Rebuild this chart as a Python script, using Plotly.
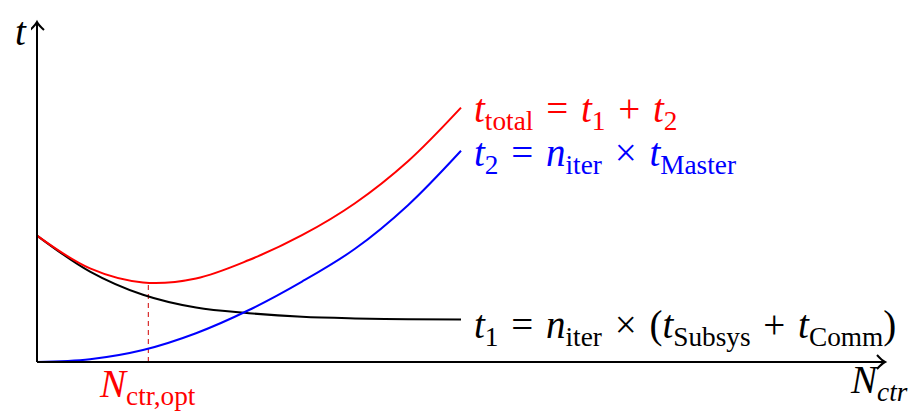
import plotly.graph_objects as go

# values (x: N_ctr, y: time, arbitrary units)
n_ctr = [0.0, 0.5, 1.0, 1.5, 2.0, 2.5, 3.0, 3.5, 4.0]
t1_vals = [3.16, 2.26, 1.68, 1.36, 1.22, 1.13, 1.09, 1.07, 1.06]
t2_vals = [0.0, 0.07, 0.30, 0.72, 1.30, 2.01, 2.83, 3.92, 5.28]
ttotal_vals = [3.16, 2.34, 1.99, 2.09, 2.55, 3.17, 3.97, 5.02, 6.36]

# optimum
n_opt = 1.05
t_opt = 1.99

x_max = 8.0
y_max = 8.5

FONT = "Liberation Serif"
FS = 39
# wider space around operators, like math spacing
SP = '<span style="font-size:51px">&nbsp;</span>'

# pixels per data unit (x: 106 px, y: 40 px)
PX = 1 / 106
PY = 1 / 40

fig = go.Figure()

fig.add_trace(go.Scatter(x=n_ctr, y=t1_vals, mode='lines', line=dict(color='black', width=2, shape='spline')))
fig.add_trace(go.Scatter(x=n_ctr, y=t2_vals, mode='lines', line=dict(color='blue', width=2, shape='spline')))
fig.add_trace(go.Scatter(x=n_ctr, y=ttotal_vals, mode='lines', line=dict(color='red', width=2, shape='spline')))

fig.add_shape(type='line', x0=n_opt, x1=n_opt, y0=0, y1=t_opt,
              line=dict(color='#d00000', width=1, dash='5px,4px'), layer='below')

# axes with open arrow heads
fig.add_shape(type='line', x0=0, y0=0, x1=x_max, y1=0, line=dict(color='black', width=2))
fig.add_shape(type='line', x0=0, y0=0, x1=0, y1=y_max, line=dict(color='black', width=2))
fig.add_shape(type='path',
              path=f"M {x_max - 8 * PX},{7 * PY} Q {x_max - 3 * PX},{1.5 * PY} {x_max},0 "
                   f"Q {x_max - 3 * PX},{-1.5 * PY} {x_max - 8 * PX},{-7 * PY}",
              line=dict(color='black', width=2))
fig.add_shape(type='path',
              path=f"M {-7 * PX},{y_max - 8 * PY} Q {-1.5 * PX},{y_max - 3 * PY} 0,{y_max} "
                   f"Q {1.5 * PX},{y_max - 3 * PY} {7 * PX},{y_max - 8 * PY}",
              line=dict(color='black', width=2))

labels = [
    (4.1, 6.4, f"<i>t</i><sub>total</sub>{SP}={SP}<i>t</i><sub>1</sub>{SP}+{SP}<i>t</i><sub>2</sub>", 'red'),
    (4.1, 5.28, f"<i>t</i><sub>2</sub>{SP}={SP}<i>n</i><sub>iter</sub>{SP}×{SP}<i>t</i><sub>Master</sub>", 'blue'),
    (4.1, 1.0, f"<i>t</i><sub>1</sub>{SP}={SP}<i>n</i><sub>iter</sub>{SP}×{SP}(<i>t</i><sub>Subsys</sub>{SP}+{SP}<i>t</i><sub>Comm</sub>)", 'black'),
]
for x, y, txt, col in labels:
    fig.add_annotation(x=x, y=y, text=txt, showarrow=False, xanchor='left', yanchor='middle',
                       font=dict(family=FONT, size=FS, color=col))

# labels outside the plot area are placed in paper coordinates
fig.add_annotation(x=0.1348, y=-0.048, xref='paper', yref='paper', text="<i>N</i><sub>ctr,opt</sub>",
                   showarrow=False, xanchor='center', yanchor='middle',
                   font=dict(family=FONT, size=FS, color='red'))
fig.add_annotation(x=0.982, y=-0.034, xref='paper', yref='paper', text="<i>N</i><sub><i>ctr</i></sub>",
                   showarrow=False, xanchor='center', yanchor='middle',
                   font=dict(family=FONT, size=FS, color='black'))
fig.add_annotation(x=-0.012, y=1.0226, xref='paper', yref='paper', text="<i>t</i>",
                   showarrow=False, xanchor='center', yanchor='top',
                   font=dict(family=FONT, size=FS, color='black'))

# ranges padded a few pixels so axis lines and arrow heads are not clipped
fig.update_xaxes(range=[-6 * PX, x_max + 10 * PX], visible=False)
fig.update_yaxes(range=[-8 * PY, y_max + 6 * PY], visible=False)
# page body adds an 8px offset, so the figure is 8px smaller
fig.update_layout(width=908, height=404, margin=dict(l=23, r=21, t=8, b=42),
                  plot_bgcolor='white', paper_bgcolor='white', showlegend=False)

fig.write_html("out.html")
